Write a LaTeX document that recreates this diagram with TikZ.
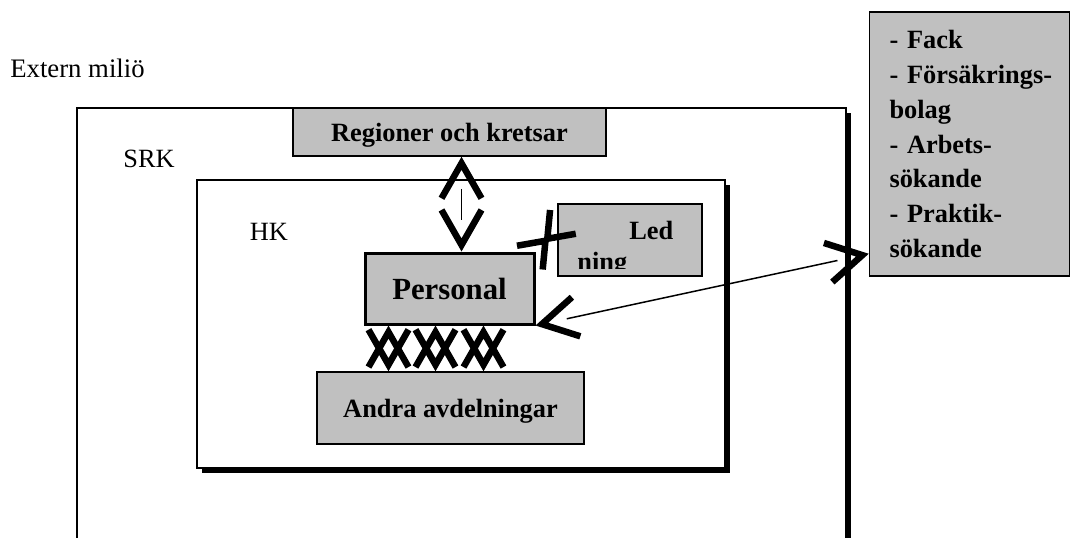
\documentclass[tikz,border=0pt]{standalone}
\usepackage{fontspec}
\setmainfont{Liberation Serif}
\usetikzlibrary{arrows.meta,calc,shadows}
\definecolor{boxgray}{RGB}{192,192,192}

\begin{document}
\begin{tikzpicture}[x=0.2mm,y=-0.2mm,
    txt/.style={inner sep=0pt, font=\fontsize{15}{18}\selectfont},
    box/.style={draw, line width=0.3mm, fill=boxgray, inner sep=0pt, font=\bfseries\fontsize{15}{18}\selectfont},
    tag/.style={box, text depth=0pt},
    frame/.style={draw, line width=0.3mm, fill=white,
      drop shadow={shadow xshift=1mm, shadow yshift=-1mm, fill=black, opacity=1}},
    chev/.tip={Straight Barb[length=7mm, width=8mm, line width=1.3mm, sharp]},
    smallchev/.tip={Straight Barb[length=4.6mm, width=7mm, line width=1.3mm, sharp]},
    heads/.style={tips, arrows={chev-chev}},
    shaft/.style={line width=0.3mm, shorten <=6.4mm, shorten >=6.4mm}]
  \useasboundingbox (0,0) rectangle (1074,537);
  \clip (0,0) rectangle (1074,537);

  \node[txt, font=\fontsize{15.2}{18}\selectfont, anchor=base west] (env) at (10,77) {Extern miliö};

  % SRK runs on past the bottom edge
  \node[frame, minimum width=153.8mm, minimum height=102.4mm] (srk) at (461.5,364) {};
  \node[txt, anchor=base] (srklbl) at (149,167) {SRK};
  \node[tag, minimum width=62.6mm, minimum height=9.6mm] (reg) at (449.5,132) {Regioner och kretsar};

  \node[frame, minimum width=105.6mm, minimum height=57.6mm] (hk) at (461,324) {};
  \node[txt, anchor=base] (hklbl) at (269,240) {HK};
  \node[tag, line width=0.6mm, minimum width=33.8mm, minimum height=14.2mm,
    font=\bfseries\fontsize{17.5}{21}\selectfont] (pers) at (449.5,288.5) {Personal};
  \node[tag, minimum width=53.4mm, minimum height=14.4mm] (andra) at (450.5,408) {Andra avdelningar};

  \node[box, minimum width=28.8mm, minimum height=14.4mm] (led) at (630,240) {};
  \begin{scope}
    \clip (led.north west) rectangle ($(led.south east)+(0,-8)$);
    \node[txt, font=\bfseries\fontsize{15}{18}\selectfont, anchor=base west] (ledtop) at (629,239) {Led};
    \node[txt, font=\bfseries\fontsize{15}{18}\selectfont, anchor=base west] (ledbot) at (577,270) {ning};
  \end{scope}

  \node[box, minimum width=40mm, minimum height=52.8mm, text width=32mm, inner xsep=4mm, align=left,
    font=\bfseries\fontsize{15}{19.9}\selectfont] (ext) at (969.5,144)
    {\mbox{- Fack}\\ \mbox{- Försäkrings-}\\ bolag\\ \mbox{- Arbets-}\\ sökande\\ \mbox{- Praktik-}\\ sökande};

  % links
  \coordinate (regout) at ($(reg.south)+(12,0)$);
  \path[heads] (regout) -- (regout |- pers.north);
  \draw[shaft] (regout) -- (regout |- pers.north);

  \foreach \dx [count=\i] in {25,72,120} {
    \coordinate (low\i) at ($(pers.south west)+(\dx,0)$);
    \path[heads] (low\i) -- (low\i |- andra.north);
  }

  \coordinate (ledin) at ($(led.west)+(0,-12)$);
  \path[tips, arrows={smallchev-smallchev}, shorten <=2.4mm, shorten >=2.4mm] (pers.north east) -- (ledin);

  \coordinate (extin) at ($(ext.south west)+(0,-23)$);
  \path[heads] (pers.south east) -- (extin);
  \draw[shaft] (pers.south east) -- (extin);
\end{tikzpicture}
\end{document}
